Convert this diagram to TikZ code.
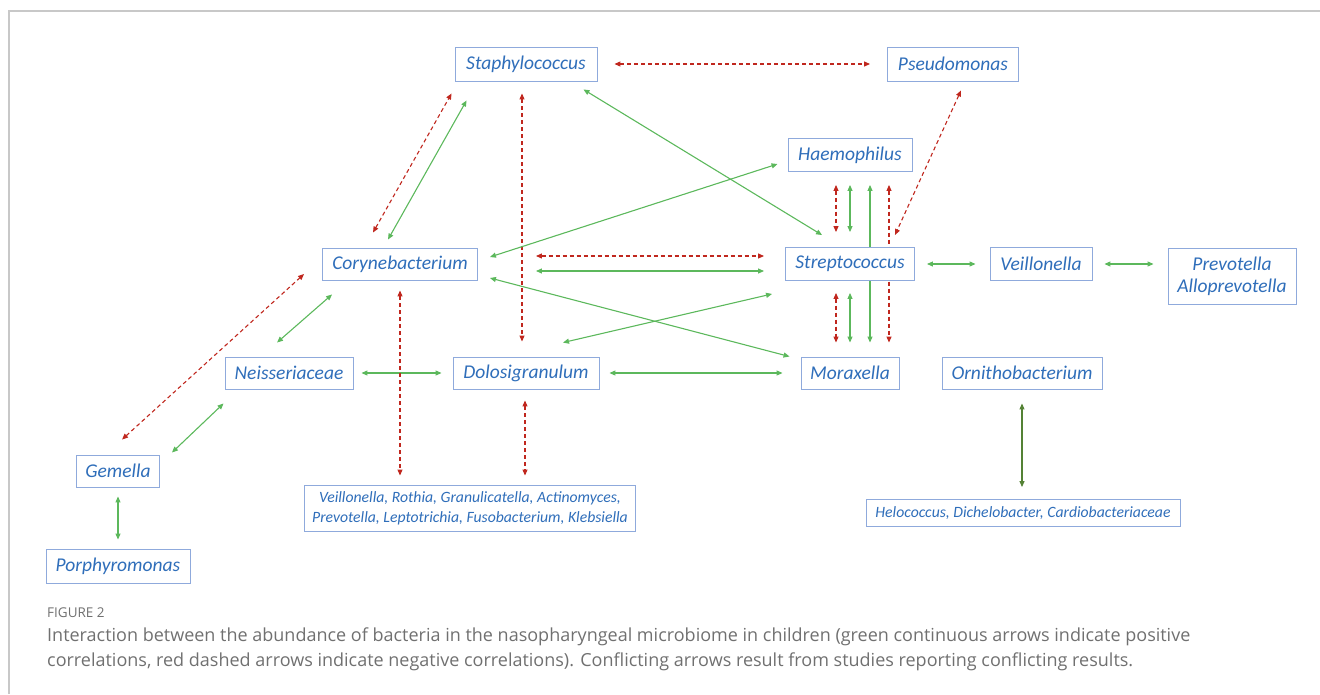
\documentclass[tikz,border=0pt]{standalone}
\usepackage{fontspec}
\setmainfont{Carlito}
\newfontfamily\capfont{Open Sans}
\usetikzlibrary{arrows.meta,backgrounds,calc}
\definecolor{txtblue}{HTML}{2F6EBA}
\definecolor{boxblue}{HTML}{8FAADC}
\definecolor{posgreen}{HTML}{5CB85C}
\definecolor{negred}{HTML}{C0271E}
\definecolor{olivegreen}{HTML}{548235}
\definecolor{framegray}{HTML}{C8C8C8}
\definecolor{capgray}{HTML}{707070}
\tikzset{
  bact/.style={draw=boxblue, line width=0.9pt, fill=white, text=txtblue, inner sep=0pt,
    font=\fontsize{19.5}{22}\selectfont\itshape, align=center},
  listbox/.style={bact, font=\fontsize{15.7}{20}\selectfont\itshape},
  posarrow/.style={draw=posgreen, line width=1.1pt, {Triangle[length=6pt,width=5pt]}-{Triangle[length=6pt,width=5pt]}},
  negarrow/.style={draw=negred, line width=1.1pt, dash pattern=on 4pt off 3pt,
    {Triangle[length=6pt,width=5pt]}-{Triangle[length=6pt,width=5pt]}},
  olivearrow/.style={posarrow, draw=olivegreen},
}
\begin{document}
\begin{tikzpicture}[x=1pt,y=-1pt]
\useasboundingbox (0,0) rectangle (1320,694);
\draw[framegray, line width=1.2pt] (9,694) -- (9,11) -- (1320,11);

% nodes
\node[bact, minimum width=142, minimum height=34] (staph) at (526,64) {Staphylococcus};
\node[bact, minimum width=131, minimum height=34] (pseudo) at (953,64) {Pseudomonas};
\node[bact, minimum width=124, minimum height=33] (haemo) at (850,155) {Haemophilus};
\node[bact, minimum width=155, minimum height=32] (coryne) at (400,264) {Corynebacterium};
\node[bact, minimum width=129, minimum height=33] (strep) at (850,264) {Streptococcus};
\node[bact, minimum width=102, minimum height=33] (veil) at (1041,264) {Veillonella};
\node[bact, minimum width=128, minimum height=56] (prev) at (1232,276) {Prevotella\\Alloprevotella};
\node[bact, minimum width=128, minimum height=32] (neiss) at (289,373) {Neisseriaceae};
\node[bact, minimum width=146, minimum height=32] (dolo) at (526,373) {Dolosigranulum};
\node[bact, minimum width=98, minimum height=32] (morax) at (850,373) {Moraxella};
\node[bact, minimum width=160, minimum height=32] (ornith) at (1022,373) {Ornithobacterium};
\node[bact, minimum width=83, minimum height=32] (gemella) at (118,471) {Gemella};
\node[bact, minimum width=144, minimum height=34] (porph) at (118,566) {Porphyromonas};
\node[listbox, minimum width=331, minimum height=46] (list) at (470,508)
  {Veillonella, Rothia, Granulicatella, Actinomyces,\\Prevotella, Leptotrichia, Fusobacterium, Klebsiella};
\node[listbox, minimum width=314, minimum height=27] (helo) at (1023,513)
  {Helococcus, Dichelobacter, Cardiobacteriaceae};

% long arrows behind Streptococcus
\begin{pgfonlayer}{background}
\draw[posarrow, shorten <=13pt, shorten >=14pt] ([xshift=20pt]haemo.south) -- ([xshift=20pt]morax.north);
\draw[negarrow, shorten <=13pt, shorten >=14pt] ([xshift=39pt]haemo.south) -- ([xshift=39pt]morax.north);
\end{pgfonlayer}

% connectors
\draw[negarrow, shorten <=17pt, shorten >=17pt] (staph.east) -- (pseudo.west);
\draw[negarrow] ([xshift=-27pt,yshift=15pt]coryne.north) -- ([xshift=-3pt,yshift=-12pt]staph.south west);
\draw[posarrow] ([xshift=-12pt,yshift=8pt]coryne.north) -- ([xshift=12pt,yshift=-19pt]staph.south west);
\draw[negarrow] ([xshift=-4pt,yshift=-12pt]staph.south) -- ([xshift=-4pt,yshift=15pt]dolo.north);
\draw[posarrow] ([xshift=-14pt,yshift=-8pt]staph.south east) -- ([xshift=37pt,yshift=12pt]strep.north west);
\draw[posarrow] ([xshift=12pt,yshift=7pt]coryne.east) -- ([xshift=-10pt,yshift=-9pt]haemo.west);
\draw[negarrow] ([xshift=58pt,yshift=8pt]coryne.east) -- ([xshift=-21pt,yshift=8pt]strep.west);
\draw[posarrow] ([xshift=58pt,yshift=-7pt]coryne.east) -- ([xshift=-21pt,yshift=-7pt]strep.west);
\draw[posarrow] ([xshift=12pt,yshift=-14pt]coryne.east) -- ([xshift=-11pt]morax.north west);
\draw[posarrow] ([xshift=37pt,yshift=14pt]dolo.north) -- ([xshift=-13pt,yshift=-13pt]strep.south west);
\draw[posarrow, shorten <=8pt, shorten >=11pt] (neiss.east) -- (dolo.west);
\draw[posarrow, shorten <=10pt, shorten >=18pt] (dolo.east) -- (morax.west);
\draw[negarrow, shorten <=10pt, shorten >=9pt] (coryne.south) -- (coryne.south |- list.north);
\draw[negarrow, shorten <=11pt, shorten >=9pt] ([xshift=-1pt]dolo.south) -- ([xshift=-1pt]dolo.south |- list.north);
\draw[posarrow] ([xshift=-12pt,yshift=14pt]neiss.north) -- ([xshift=10pt,yshift=-14pt]coryne.south west);
\draw[negarrow] ([xshift=4pt,yshift=15pt]gemella.north) -- ([xshift=-18pt,yshift=-10pt]coryne.west);
\draw[posarrow] ([xshift=12pt,yshift=2pt]gemella.north east) -- ([xshift=-1pt,yshift=-14pt]neiss.south west);
\draw[posarrow, shorten <=9pt, shorten >=9pt] (gemella.south) -- (porph.north);
\draw[negarrow, shorten <=13pt, shorten >=15pt] ([xshift=-14pt]haemo.south) -- ([xshift=-14pt]strep.north);
\draw[posarrow, shorten <=13pt, shorten >=15pt] (haemo.south) -- (strep.north);
\draw[negarrow, shorten <=12pt, shorten >=14pt] ([xshift=-14pt]strep.south) -- ([xshift=-14pt]morax.north);
\draw[posarrow, shorten <=12pt, shorten >=14pt] (strep.south) -- (morax.north);
\draw[negarrow] ([xshift=8pt,yshift=-9pt]pseudo.south) -- ([xshift=-20pt,yshift=12pt]strep.north east);
\draw[posarrow, shorten <=12pt, shorten >=14pt] (strep.east) -- (veil.west);
\draw[posarrow, shorten <=12pt, shorten >=14pt] (veil.east) -- (veil.east -| prev.west);
\draw[olivearrow, shorten <=14pt, shorten >=12pt] (ornith.south) -- (ornith.south |- helo.north);

% caption
\node[anchor=west, text=capgray, font=\capfont\fontsize{13.5}{16}\selectfont, inner sep=0pt] (figlabel) at (47,613) {FIGURE 2};
\node[anchor=north west, text=capgray, font=\capfont\fontsize{18}{25}\selectfont, inner sep=0pt, align=left] (caption) at (47,628)
  {Interaction between the abundance of bacteria in the nasopharyngeal microbiome in children (green continuous arrows indicate positive\\
   correlations, red dashed arrows indicate negative correlations). Conflicting arrows result from studies reporting conflicting results.};
\end{tikzpicture}
\end{document}
